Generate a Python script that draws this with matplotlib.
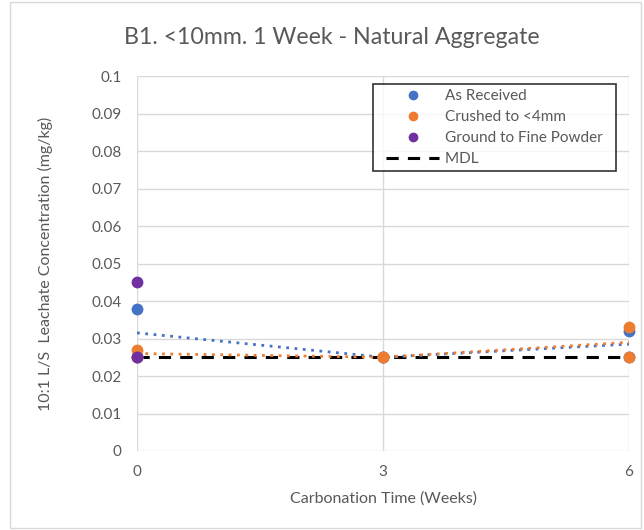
import matplotlib
matplotlib.use("Agg")
import matplotlib.pyplot as plt
from matplotlib.legend_handler import HandlerLine2D
import numpy as np

plt.rcParams['font.family'] = ['Lato', 'DejaVu Sans']

weeks = [0, 3, 6]
as_received_a = [0.038, 0.025, 0.032]
as_received_b = [0.025, 0.025, 0.025]
crushed_a = [0.027, 0.025, 0.033]
crushed_b = [0.025, 0.025, 0.025]
powder_weeks = [0, 0]
powder = [0.045, 0.025]
mdl = 0.025
yticks = [0, 0.01, 0.02, 0.03, 0.04, 0.05, 0.06, 0.07, 0.08, 0.09, 0.1]
ytick_labels = ["0", "0.01", "0.02", "0.03", "0.04", "0.05", "0.06", "0.07", "0.08", "0.09", "0.1"]

blue = "#4472C4"
orange = "#ED7D31"
purple = "#7030A0"
text_col = "#595959"

fig = plt.figure(figsize=(6.44, 5.30), dpi=100)
ax = fig.add_axes([137/644, 1 - 451/530, (629-137)/644, (451-76)/530])

ax.set_xlim(0, 6)
ax.set_ylim(0, 0.1)
ax.set_yticks(yticks)
ax.set_yticklabels(ytick_labels)
ax.set_xticks(weeks)
ax.grid(True, color="#D9D9D9", linewidth=1)
ax.set_axisbelow(True)
for s in ax.spines.values():
    s.set_visible(False)
ax.tick_params(length=0, colors=text_col, labelsize=11)
ax.tick_params(axis='x', pad=10)
ax.tick_params(axis='y', pad=11)

# MDL reference line
mdl_line, = ax.plot([0, 6], [mdl, mdl], color="black", linestyle=(0, (4, 3)), linewidth=2.2,
                    label="MDL", zorder=2)

# Trend lines through replicate means
ar_mean = (np.array(as_received_a) + np.array(as_received_b)) / 2
cr_mean = (np.array(crushed_a) + np.array(crushed_b)) / 2
ax.plot(weeks, ar_mean, color=blue, linestyle=(0, (1, 2)), linewidth=2, zorder=3)
ax.plot(weeks, cr_mean, color=orange, linestyle=(0, (1, 2)), linewidth=2, zorder=3)

ms = 7.5
h_ar, = ax.plot(weeks + weeks, as_received_a + as_received_b, 'o', color=blue, markersize=ms,
                linestyle='none', label="As Received", zorder=4, clip_on=False)
h_cr, = ax.plot(weeks + weeks, crushed_a + crushed_b, 'o', color=orange, markersize=ms,
                linestyle='none', label="Crushed to <4mm", zorder=5, clip_on=False)
h_pw, = ax.plot(powder_weeks, powder, 'o', color=purple, markersize=ms,
                linestyle='none', label="Ground to Fine Powder", zorder=6, clip_on=False)

handles = [h_ar, h_cr, h_pw, mdl_line]
labels = [h.get_label() + "  " for h in handles]
pad_handler = HandlerLine2D(xpad=0.53)
leg = ax.legend(handles, labels,
                loc="upper right", bbox_to_anchor=(0.9736, 0.9787), borderaxespad=0,
                fontsize=11, frameon=True, fancybox=False, edgecolor="black", borderpad=0.35,
                handlelength=4.0, handletextpad=0.4, labelspacing=0.45, markerscale=0.8,
                handler_map={h: pad_handler for h in handles})
leg.get_frame().set_linewidth(1.2)
for t in leg.get_texts():
    t.set_color(text_col)

fig.text(332/644, 1 - 38/530, "B1. <10mm. 1 Week - Natural Aggregate", ha="center", va="center",
         fontsize=16.7, color=text_col)
ax.set_xlabel("Carbonation Time (Weeks)", color=text_col, fontsize=11.5, labelpad=9)
ax.set_ylabel("10:1 L/S  Leachate Concentration (mg/kg)", color=text_col, fontsize=11.5, labelpad=28)

# outer frame
fig.patches.append(plt.Rectangle((0.015, 0.004), 0.98, 0.992, transform=fig.transFigure,
                                 fill=False, edgecolor="#D9D9D9", linewidth=1))

fig.savefig("out.png", dpi=100)
